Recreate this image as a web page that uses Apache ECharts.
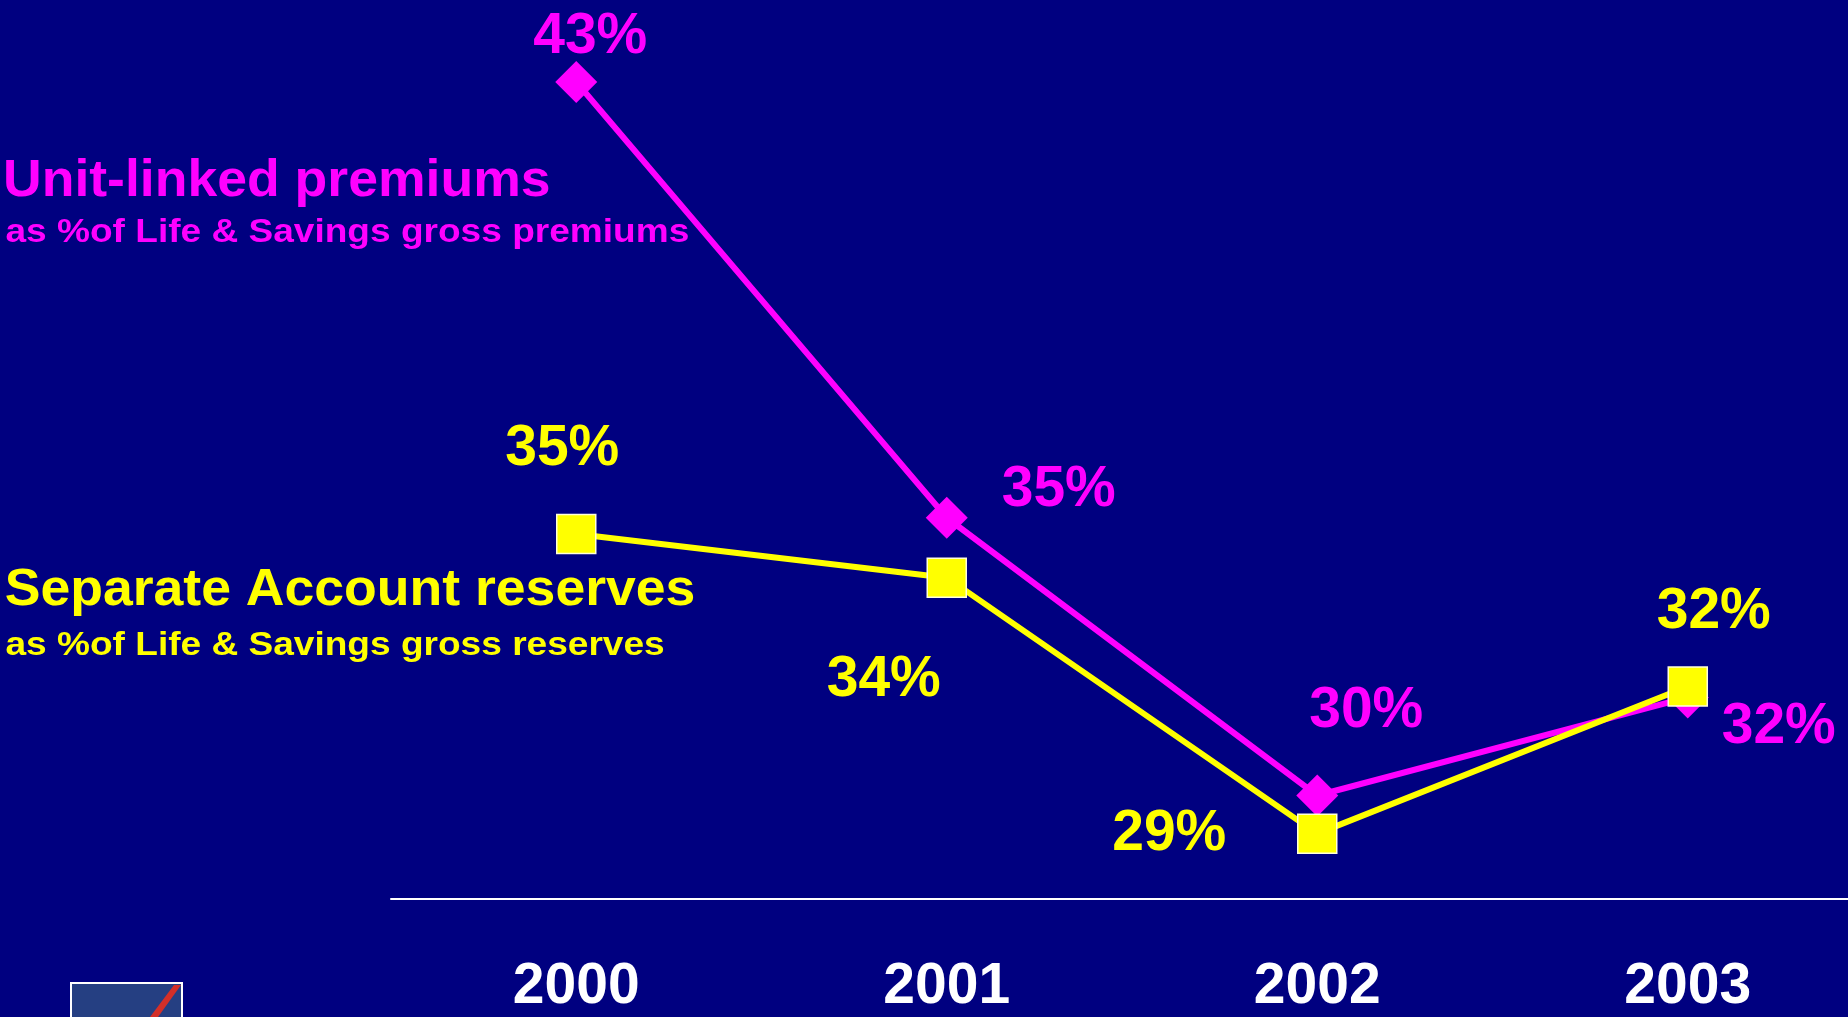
<!DOCTYPE html>
<html>
<head>
<meta charset="utf-8">
<script src="https://cdn.jsdelivr.net/npm/echarts@6/dist/echarts.min.js"></script>
<style>
  html, body { margin: 0; padding: 0; background: #000080; overflow: hidden; }
  #chart { width: 1848px; height: 1017px; }
</style>
</head>
<body>
<div id="chart"></div>
<script>
// ---- Data ----
const categories = ['2000', '2001', '2002', '2003'];
const unitLinkedValues = [43.0, 35.0, 29.9, 31.7];
const separateAccountValues = [34.7, 33.9, 29.2, 31.9];
const unitLinkedLabels = ['43%', '35%', '30%', '32%'];
const separateAccountLabels = ['35%', '34%', '29%', '32%'];
const unitLinkedTitle = 'Unit-linked premiums';
const unitLinkedSubtitle = 'as %of Life & Savings gross premiums';
const separateTitle = 'Separate Account reserves';
const separateSubtitle = 'as %of Life & Savings gross reserves';

// ---- Label placement (style, not data) ----
const unitLinkedLabelOffsets = [[14, -45], [112, -27], [49, -84], [91, 30]];
const separateLabelOffsets = [[-14, -85], [-63, 103], [-148, 1], [26, -74]];

const FONT = "'Liberation Sans', Arial, Helvetica, sans-serif";
const MAGENTA = '#ff00ff';
const YELLOW = '#ffff00';

function buildData(values, labels, offsets) {
  return values.map((v, i) => ({
    value: [i, v],
    label: { formatter: labels[i], offset: offsets[i] }
  }));
}

function legendText(text, x, y, size, sx, color) {
  return {
    type: 'text', x: x, y: y, scaleX: sx, silent: true,
    style: {
      text: text, x: 0, y: 0, fill: color,
      font: 'bold ' + size + 'px ' + FONT,
      verticalAlign: 'middle', align: 'left'
    }
  };
}

const chart = echarts.init(document.getElementById('chart'), null, { renderer: 'canvas' });

const option = {
  backgroundColor: '#000080',
  animation: false,
  grid: { left: 391, top: 82, right: 0, bottom: 118, containLabel: false },
  xAxis: {
    type: 'value',
    min: -0.5,
    max: 3.4325,
    axisLine: { show: true, onZero: false, lineStyle: { color: '#ffffff', width: 2 } },
    axisTick: { show: false },
    splitLine: { show: false },
    axisLabel: {
      customValues: [0, 1, 2, 3],
      formatter: (v) => categories[Math.round(v)],
      color: '#ffffff', fontFamily: FONT, fontWeight: 'bold', fontSize: 57,
      margin: 88, verticalAlign: 'middle'
    }
  },
  yAxis: {
    type: 'value', min: 28, max: 43, show: false,
    splitLine: { show: false }
  },
  series: [
    {
      name: unitLinkedTitle,
      type: 'line',
      silent: true,
      data: buildData(unitLinkedValues, unitLinkedLabels, unitLinkedLabelOffsets),
      symbol: 'diamond',
      symbolSize: 42,
      lineStyle: { color: MAGENTA, width: 6 },
      itemStyle: { color: MAGENTA },
      label: {
        show: true, position: 'inside', color: MAGENTA,
        fontFamily: FONT, fontWeight: 'bold', fontSize: 57
      },
      emphasis: { disabled: true },
      z: 2
    },
    {
      name: separateTitle,
      type: 'line',
      silent: true,
      data: buildData(separateAccountValues, separateAccountLabels, separateLabelOffsets),
      symbol: 'rect',
      symbolSize: 39,
      lineStyle: { color: YELLOW, width: 6 },
      itemStyle: { color: YELLOW, borderColor: '#ffffd8', borderWidth: 1.5 },
      label: {
        show: true, position: 'inside', color: YELLOW,
        fontFamily: FONT, fontWeight: 'bold', fontSize: 57
      },
      emphasis: { disabled: true },
      z: 3
    }
  ],
  graphic: [
    legendText(unitLinkedTitle, 3, 181.5, 52, 1.03, MAGENTA),
    legendText(unitLinkedSubtitle, 5.5, 233, 34, 1.09, MAGENTA),
    legendText(separateTitle, 4.7, 590.5, 52, 1.03, YELLOW),
    legendText(separateSubtitle, 5.5, 645.5, 34, 1.09, YELLOW),
    {
      type: 'rect',
      shape: { x: 71, y: 983, width: 111, height: 60 },
      style: { fill: '#253f82', stroke: '#ffffff', lineWidth: 2 },
      silent: true
    },
    {
      type: 'polygon',
      shape: { points: [[174, 985], [181, 985], [158, 1017], [150, 1017]] },
      style: { fill: '#d42f28' },
      silent: true
    }
  ]
};

chart.setOption(option);
</script>
</body>
</html>
